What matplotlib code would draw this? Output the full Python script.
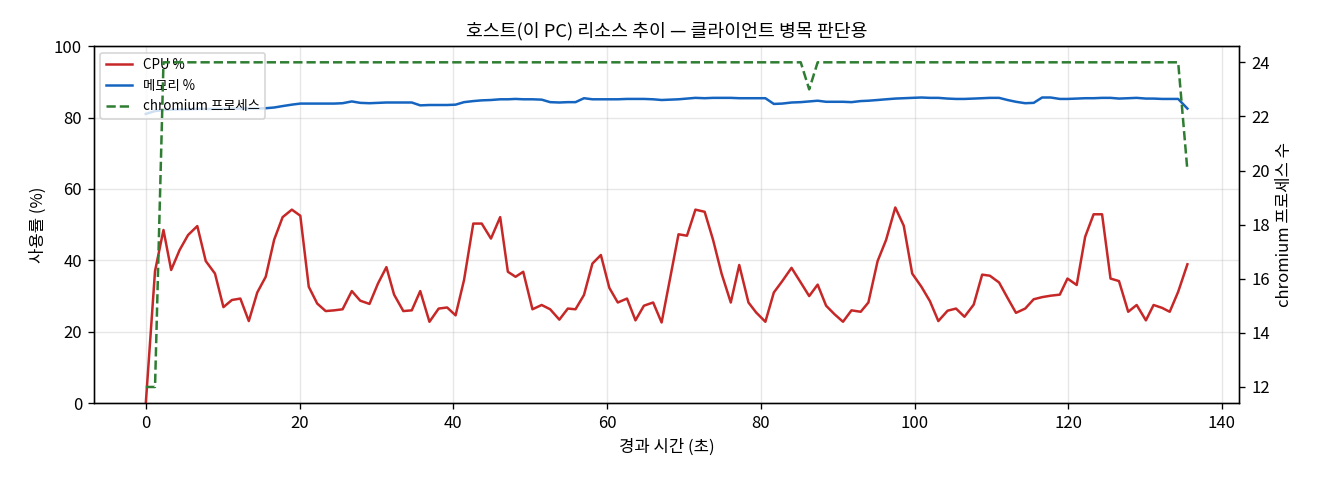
import numpy as np
import matplotlib
matplotlib.use("Agg")
import matplotlib.pyplot as plt

plt.rcParams["font.family"] = ["Noto Sans CJK KR", "DejaVu Sans"]
plt.rcParams["axes.unicode_minus"] = False

# 경과 시간 (초)
elapsed_s = [
    0.0, 1.2, 2.3, 3.3, 4.4, 5.5, 6.7, 7.8, 9.0, 10.1,
    11.2, 12.3, 13.4, 14.5, 15.6, 16.7, 17.8, 19.0, 20.1, 21.2,
    22.3, 23.4, 24.5, 25.6, 26.8, 27.9, 29.1, 30.2, 31.3, 32.3,
    33.5, 34.6, 35.7, 36.9, 38.1, 39.2, 40.3, 41.4, 42.6, 43.7,
    44.9, 46.1, 47.1, 48.1, 49.1, 50.3, 51.5, 52.6, 53.8, 54.9,
    55.9, 57.0, 58.1, 59.2, 60.3, 61.4, 62.6, 63.7, 64.8, 66.0,
    67.1, 68.2, 69.3, 70.4, 71.5, 72.7, 73.8, 74.9, 76.1, 77.2,
    78.4, 79.4, 80.6, 81.7, 82.8, 84.0, 85.2, 86.3, 87.4, 88.5,
    89.6, 90.7, 91.8, 93.0, 94.0, 95.2, 96.3, 97.5, 98.6, 99.7,
    100.9, 102.0, 103.1, 104.3, 105.4, 106.5, 107.7, 108.8, 109.8, 111.0,
    112.1, 113.2, 114.4, 115.5, 116.6, 117.7, 118.9, 119.9, 121.1, 122.2,
    123.3, 124.4, 125.5, 126.6, 127.8, 128.9, 130.1, 131.1, 132.2, 133.2,
    134.3, 135.5,
]

cpu_pct = [
    0.0, 37.0, 48.5, 37.3, 42.9, 47.1, 49.6, 39.8, 36.3, 26.9,
    28.9, 29.3, 23.0, 31.0, 35.4, 45.8, 52.1, 54.2, 52.5, 32.6,
    27.9, 25.8, 26.0, 26.3, 31.4, 28.7, 27.8, 33.5, 38.1, 30.4,
    25.8, 26.0, 31.4, 22.8, 26.5, 26.8, 24.6, 34.5, 50.3, 50.3,
    46.1, 52.1, 36.8, 35.4, 36.8, 26.3, 27.5, 26.3, 23.4, 26.5,
    26.3, 30.3, 39.1, 41.5, 32.3, 28.2, 29.3, 23.2, 27.3, 28.2,
    22.6, 34.9, 47.3, 46.9, 54.2, 53.6, 45.7, 36.3, 28.2, 38.7,
    28.2, 25.4, 22.8, 31.0, 34.2, 37.9, 33.8, 30.0, 33.2, 27.3,
    24.9, 22.8, 26.0, 25.6, 28.2, 39.8, 45.7, 54.8, 49.7, 36.3,
    32.6, 28.6, 23.0, 25.9, 26.5, 24.2, 27.6, 36.0, 35.7, 33.8,
    29.5, 25.3, 26.5, 29.1, 29.7, 30.1, 30.4, 34.9, 33.1, 46.6,
    52.9, 52.9, 34.9, 34.2, 25.6, 27.5, 23.2, 27.5, 26.7, 25.6,
    31.2, 38.9,
]

mem_pct = [
    81.0, 81.8, 82.1, 82.2, 82.3, 82.3, 82.4, 82.4, 82.4, 82.4,
    82.5, 82.5, 82.5, 82.5, 82.6, 82.8, 83.2, 83.6, 83.9, 83.9,
    83.9, 83.9, 83.9, 84.0, 84.5, 84.1, 84.0, 84.1, 84.2, 84.2,
    84.2, 84.2, 83.4, 83.5, 83.5, 83.5, 83.6, 84.3, 84.6, 84.8,
    84.9, 85.1, 85.1, 85.2, 85.1, 85.1, 85.0, 84.3, 84.2, 84.3,
    84.3, 85.4, 85.1, 85.1, 85.1, 85.1, 85.2, 85.2, 85.2, 85.1,
    84.9, 85.0, 85.1, 85.3, 85.5, 85.4, 85.5, 85.5, 85.5, 85.4,
    85.4, 85.4, 85.4, 83.8, 83.9, 84.2, 84.3, 84.5, 84.7, 84.4,
    84.4, 84.4, 84.3, 84.6, 84.7, 84.9, 85.1, 85.3, 85.4, 85.5,
    85.6, 85.5, 85.5, 85.3, 85.2, 85.2, 85.3, 85.4, 85.5, 85.5,
    84.9, 84.4, 84.0, 84.1, 85.6, 85.6, 85.2, 85.2, 85.3, 85.4,
    85.4, 85.5, 85.5, 85.3, 85.4, 85.5, 85.3, 85.3, 85.2, 85.2,
    85.2, 82.5,
]

chromium_procs = (
    [12, 12]
    + [24] * 75
    + [23]
    + [24] * 43
    + [20]
)

fig, ax = plt.subplots(figsize=(11, 4), dpi=120)

l_cpu = ax.plot(elapsed_s, cpu_pct, color="#c62828", linewidth=1.5, label="CPU %")[0]
l_mem = ax.plot(elapsed_s, mem_pct, color="#1565c0", linewidth=1.5, label="메모리 %")[0]
ax.set_ylim(0, 100)
ax.set_xlabel("경과 시간 (초)")
ax.set_ylabel("사용률 (%)")
ax.grid(True, alpha=0.3)

ax2 = ax.twinx()
l_chr = ax2.plot(elapsed_s, chromium_procs, color="#2e7d32", linewidth=1.5,
                 linestyle="--", label="chromium 프로세스")[0]
ax2.set_ylabel("chromium 프로세스 수")

ax.set_title("호스트(이 PC) 리소스 추이 — 클라이언트 병목 판단용", fontsize=11)

handles = [l_cpu, l_mem, l_chr]
ax.legend(handles, [h.get_label() for h in handles], loc="upper left", fontsize=8)

fig.subplots_adjust(left=0.071, right=0.939, top=0.904, bottom=0.160)
fig.savefig("out.png", dpi=120)
